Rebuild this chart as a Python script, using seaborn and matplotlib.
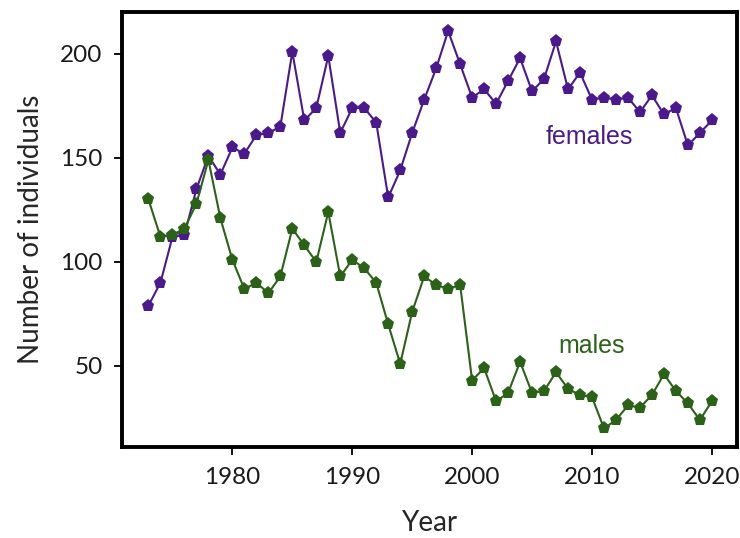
import numpy as np
import pandas as pd
import seaborn as sns
import matplotlib
matplotlib.use("Agg")
import matplotlib.pyplot as plt

years = list(range(1973, 2021))
females = [79, 90, 112, 113, 135, 151, 142, 155, 152, 161, 162, 165, 201, 168, 174, 199,
           162, 174, 174, 167, 131, 144, 162, 178, 193, 211, 195, 179, 183, 176, 187, 198,
           182, 188, 206, 183, 191, 178, 179, 178, 179, 172, 180, 171, 174, 156, 162, 168]
males = [130, 112, 113, 116, 128, 149, 121, 101, 87, 90, 85, 93, 116, 108, 100, 124,
         93, 101, 97, 90, 70, 51, 76, 93, 89, 87, 89, 43, 49, 33, 37, 52,
         37, 38, 47, 39, 36, 35, 20, 24, 31, 30, 36, 46, 38, 32, 24, 33]
series_names = ["females", "males"]
colors = ["#4a1a8c", "#2b6218"]

df = pd.DataFrame({
    "Year": years * 2,
    "Count": females + males,
    "Sex": ["females"] * len(years) + ["males"] * len(years),
})

sns.set_theme(style="white")
plt.rcParams['font.family'] = ['Lato', 'DejaVu Sans']

fig = plt.figure(figsize=(7.4, 5.38), dpi=100)
ax = fig.add_axes([0.165, 0.169, 0.831, 0.809])

sns.lineplot(data=df, x="Year", y="Count", hue="Sex", palette=dict(zip(series_names, colors)),
             style="Sex", markers={"females": "p", "males": "p"}, dashes=False,
             markersize=9.5, markeredgewidth=0, linewidth=1.5, legend=False, ax=ax)

ax.set_xlim(1970.8, 2022.1)
ax.set_ylim(11, 220.2)
ax.set_xticks([1980, 1990, 2000, 2010, 2020])
ax.set_yticks([50, 100, 150, 200])
ax.tick_params(axis="both", which="both", direction="out", length=6, width=1.3,
               labelsize=17.5, bottom=True, left=True, colors="black", pad=8)
for lab in ax.get_xticklabels() + ax.get_yticklabels():
    lab.set_color("#1a1a1a")
for s in ax.spines.values():
    s.set_linewidth(2.8)
    s.set_color("black")

ax.set_xlabel("Year", fontsize=20, labelpad=16)
ax.set_ylabel("Number of individuals", fontsize=20, labelpad=12)

ax.text(2009.8, 160, "females", color=colors[0], fontsize=18, ha="center", va="center",
        family=["Liberation Sans", "DejaVu Sans"])
ax.text(2010, 59.6, "males", color=colors[1], fontsize=18, ha="center", va="center",
        family=["Liberation Sans", "DejaVu Sans"])

fig.savefig("out.png", dpi=100)
